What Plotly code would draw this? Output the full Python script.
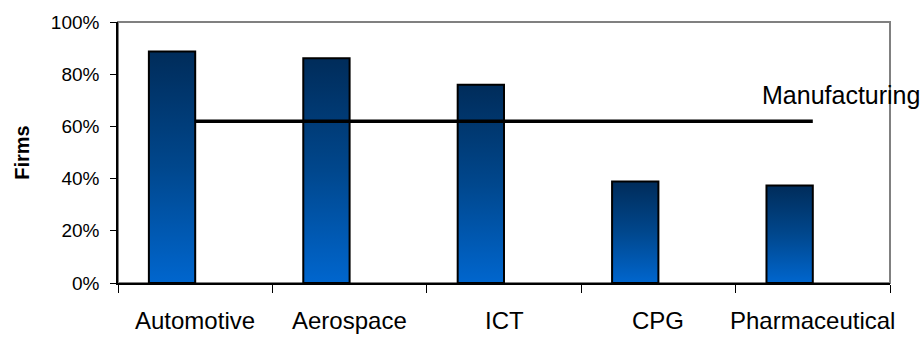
import plotly.graph_objects as go

# Share of firms by industry, with the manufacturing-wide reference level
categories = ["Automotive", "Aerospace", "ICT", "CPG", "Pharmaceutical"]
firm_share = [88.7, 86.1, 76.0, 38.9, 37.4]
manufacturing = [62, 62, 62, 62, 62]
y_ticks = [0, 20, 40, 60, 80, 100]

FONT = "Liberation Sans, Arial, sans-serif"
BAR_LEFT, BAR_RIGHT = 0.2, 0.5      # bar span inside each category slot
LINE_POS = 0.5                      # line / label position inside a slot
GRADIENT = [[0.0, "#0066CE"], [0.5, "#00478D"], [1.0, "#002C5A"]]

fig = go.Figure()

# Bars as filled outlines so each one carries its own vertical gradient
for i, (name, v) in enumerate(zip(categories, firm_share)):
    x0, x1 = i + BAR_LEFT, i + BAR_RIGHT
    fig.add_trace(go.Scatter(
        x=[x0, x0, x1, x1, x0],
        y=[0, v, v, 0, 0],
        mode="lines",
        fill="toself",
        fillgradient=dict(type="vertical", colorscale=GRADIENT),
        line=dict(color="#000000", width=2),
        name=name,
        hoverinfo="skip",
        showlegend=False,
    ))

# Manufacturing reference line across the category centres
line_x = [i + LINE_POS for i in range(len(categories))]
fig.add_trace(go.Scatter(
    x=line_x, y=manufacturing, mode="lines",
    line=dict(color="#000000", width=3.5),
    name="Manufacturing", showlegend=False, hoverinfo="skip",
))

annotations = [
    dict(x=line_x[-1], y=manufacturing[-1], xref="x", yref="y",
         text="Manufacturing", showarrow=False, xanchor="center",
         yanchor="middle", xshift=28, yshift=26,
         font=dict(family=FONT, size=25, color="#000000"))
]
for xpos, name in zip(line_x, categories):
    annotations.append(dict(
        x=xpos, y=0, xref="x", yref="paper", text=name, showarrow=False,
        xanchor="center", yanchor="top", yshift=-22,
        font=dict(family=FONT, size=24, color="#000000")))

n = len(categories)
fig.update_layout(
    width=924, height=337,
    margin=dict(l=118, r=34, t=18, b=54),
    paper_bgcolor="white", plot_bgcolor="white",
    showlegend=False,
    font=dict(family=FONT, color="#000000"),
    annotations=annotations,
    shapes=[dict(type="rect", xref="paper", yref="paper", x0=0, y0=0, x1=1, y1=1,
                 line=dict(color="#808080", width=2), layer="below")],
    xaxis=dict(range=[0, n], tickmode="array", tickvals=list(range(n + 1)),
               showticklabels=False, ticks="outside", ticklen=8, tickwidth=1,
               tickcolor="#000000", showline=True, linecolor="#000000",
               linewidth=1.5, showgrid=False, zeroline=False),
    xaxis2=dict(overlaying="x", anchor="y", range=[0, n], tickmode="array",
                tickvals=list(range(n + 1)), showticklabels=False,
                ticks="inside", ticklen=9, tickwidth=1, tickcolor="#000000",
                showline=False, showgrid=False, zeroline=False),
    yaxis=dict(range=[0, 100], tickmode="array", tickvals=y_ticks,
               ticktext=[f"{t}%" for t in y_ticks], ticks="outside", ticklen=6,
               tickwidth=1, tickcolor="#000000", ticklabelstandoff=7,
               tickfont=dict(family=FONT, size=19, color="#000000"),
               showline=True, linecolor="#000000", linewidth=1.5,
               showgrid=False, zeroline=False,
               title=dict(text="<b>Firms</b>", standoff=16,
                          font=dict(family=FONT, size=20, color="#000000"))),
    yaxis2=dict(overlaying="y", anchor="x", side="left", range=[0, 100],
                tickmode="array", tickvals=y_ticks, showticklabels=False,
                ticks="inside", ticklen=6, tickwidth=1, tickcolor="#000000",
                showline=False, showgrid=False, zeroline=False),
)

fig.write_html("out.html")
